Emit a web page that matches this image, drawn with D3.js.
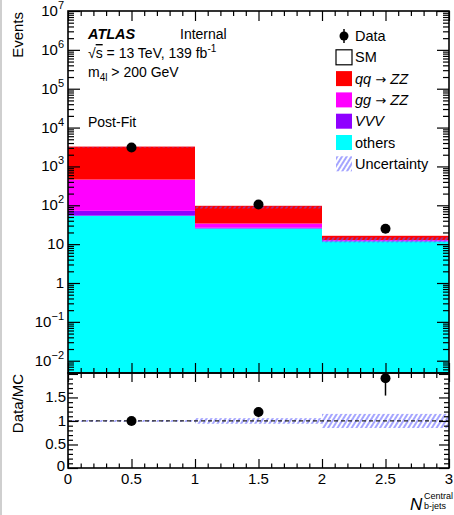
<!DOCTYPE html>
<html>
<head>
<meta charset="utf-8">
<script src="https://cdn.jsdelivr.net/npm/d3@7"></script>
<style>
  body { margin: 0; background: #fff; }
  svg { display: block; font-family: "Liberation Sans", Arial, sans-serif; }
  .frame { fill: none; stroke: #000; stroke-width: 1.6; }
  .tk path { display: none; }
  .tk line { stroke: #000; stroke-width: 1.2; }
</style>
</head>
<body>
<svg id="chart" width="454" height="515"></svg>
<script>
// bins of N_b-jets (central)
const binEdges = [0, 1, 2, 3]
const binCenters = [0.5, 1.5, 2.5]

// stacked post-fit yields, bottom to top
const others = [54, 25.3, 11.8]
const vvv = [18, 1.2, 0.4]
const ggZZ = [388, 7.5, 0.6]
const qqZZ = [2780, 63, 3.6]

const dataYield = [3060, 105, 25]
const smTotal = [3120, 88, 13]
const relUnc = [0.02, 0.06, 0.15]

const ratio = [1.0, 1.19, 1.91]
const ratioErrLo = [0.02, 0.11, 0.37]
const ratioErrHi = [0.02, 0.10, 0.40]

const yTickExp = [-2, -1, 0, 1, 2, 3, 4, 5, 6, 7]
const rTickLabels = ["0", "0.5", "1", "1.5"]
const xTickLabels = ["0", "0.5", "1", "1.5", "2", "2.5", "3"]

const series = [
    { name: "others", values: others, color: "#00ffff" },
    { name: "VVV", values: vvv, color: "#8f00ff" },
    { name: "ggZZ", values: ggZZ, color: "#ff00ff" },
    { name: "qqZZ", values: qqZZ, color: "#ff0000" },
]

let L = 68, R = 449, T = 11, M = 373, B = 468

let svg = d3.select("#chart")

// light grey strip on the left edge of the canvas
svg.append("rect").attr("x", 0).attr("y", 0).attr("width", 2).attr("height", 515).attr("fill", "#cfcfcf")

let defs = svg.append("defs")
let pat = defs.append("pattern")
    .attr("id", "hatch")
    .attr("width", 4).attr("height", 4)
    .attr("patternUnits", "userSpaceOnUse")
    .attr("patternTransform", "rotate(32)")
pat.append("line")
    .attr("x1", 1).attr("y1", -1).attr("x2", 1).attr("y2", 5)
    .attr("stroke", "#5a5aff").attr("stroke-width", 1.1)

let x = d3.scaleLinear().domain([0, 3]).range([L, R])
let y = d3.scaleLog().domain([Math.pow(10, -2.316), 1e7]).range([M, T])
let r = d3.scaleLinear().domain([0, 2.02]).range([B, M])

// ---- stacked histogram
let ymin = y.domain()[0]
let base = [0, 0, 0]
for (const s of series) {
    const lo = base.slice()
    const hi = base.map((b, i) => b + s.values[i])
    svg.append("g").selectAll("rect")
        .data(s.values)
        .join("rect")
        .attr("x", (d, i) => x(binEdges[i]))
        .attr("width", (d, i) => x(binEdges[i + 1]) - x(binEdges[i]))
        .attr("y", (d, i) => y(hi[i]))
        .attr("height", (d, i) => y(Math.max(lo[i], ymin)) - y(hi[i]))
        .attr("fill", s.color)
    base = hi
}

// uncertainty band on SM
svg.append("g").selectAll("rect")
    .data(smTotal)
    .join("rect")
    .attr("x", (d, i) => x(binEdges[i]))
    .attr("width", (d, i) => x(binEdges[i + 1]) - x(binEdges[i]))
    .attr("y", (d, i) => y(d * (1 + relUnc[i])))
    .attr("height", (d, i) => y(d * (1 - relUnc[i])) - y(d * (1 + relUnc[i])))
    .attr("fill", "url(#hatch)")

// data points
let pts = svg.append("g")
pts.selectAll("line")
    .data(dataYield)
    .join("line")
    .attr("x1", (d, i) => x(binCenters[i])).attr("x2", (d, i) => x(binCenters[i]))
    .attr("y1", d => y(d + Math.sqrt(d))).attr("y2", d => y(d - Math.sqrt(d)))
    .attr("stroke", "#000").attr("stroke-width", 1.5)
pts.selectAll("circle")
    .data(dataYield)
    .join("circle")
    .attr("cx", (d, i) => x(binCenters[i]))
    .attr("cy", d => y(d))
    .attr("r", 5)
    .attr("fill", "#000")

// ---- ratio panel
svg.append("g").selectAll("rect")
    .data(relUnc)
    .join("rect")
    .attr("x", (d, i) => x(binEdges[i]))
    .attr("width", (d, i) => x(binEdges[i + 1]) - x(binEdges[i]))
    .attr("y", d => r(1 + d))
    .attr("height", d => r(1 - d) - r(1 + d))
    .attr("fill", "url(#hatch)")

svg.append("line")
    .attr("x1", x(0)).attr("x2", x(3))
    .attr("y1", r(1)).attr("y2", r(1))
    .attr("stroke", "#222").attr("stroke-width", 1.2)
    .attr("stroke-dasharray", "4,3")

let rp = svg.append("g")
rp.selectAll("line")
    .data(ratio)
    .join("line")
    .attr("x1", (d, i) => x(binCenters[i])).attr("x2", (d, i) => x(binCenters[i]))
    .attr("y1", (d, i) => r(Math.min(d + ratioErrHi[i], 2.02)))
    .attr("y2", (d, i) => r(d - ratioErrLo[i]))
    .attr("stroke", "#000").attr("stroke-width", 1.5)
rp.selectAll("circle")
    .data(ratio)
    .join("circle")
    .attr("cx", (d, i) => x(binCenters[i]))
    .attr("cy", d => r(d))
    .attr("r", 5)
    .attr("fill", "#000")

// ---- ticks (inward, ROOT style)
let decades = yTickExp.map(e => Math.pow(10, e))
let yMinor = []
for (let e = -3; e <= 6; e++) {
    for (let k = 2; k <= 9; k++) {
        const v = k * Math.pow(10, e)
        if (v > ymin && v < 1e7) yMinor.push(v)
    }
}
let xMajor = d3.range(0, 3.01, 0.5)
let xMinor = d3.range(0, 3.01, 0.1).filter(v => Math.abs(v * 2 - Math.round(v * 2)) > 1e-6)
let rMajor = [0, 0.5, 1, 1.5, 2]
let rMinor = d3.range(0, 2.02, 0.1).filter(v => Math.abs(v * 2 - Math.round(v * 2)) > 1e-6)

function ticks(axis, vals, size, tx, ty) {
    svg.append("g")
        .attr("class", "tk")
        .attr("transform", `translate(${tx},${ty})`)
        .call(axis.tickValues(vals).tickSize(-size).tickFormat(""))
}

ticks(d3.axisLeft(y), decades, 12, L, 0)
ticks(d3.axisLeft(y), yMinor, 6, L, 0)
ticks(d3.axisRight(y), decades, 12, R, 0)
ticks(d3.axisRight(y), yMinor, 6, R, 0)
ticks(d3.axisTop(x), xMajor, 10, 0, T)
ticks(d3.axisTop(x), xMinor, 5, 0, T)
ticks(d3.axisBottom(x), xMajor, 10, 0, M)
ticks(d3.axisBottom(x), xMinor, 5, 0, M)

ticks(d3.axisLeft(r), rMajor, 10, L, 0)
ticks(d3.axisLeft(r), rMinor, 5, L, 0)
ticks(d3.axisRight(r), rMajor, 10, R, 0)
ticks(d3.axisRight(r), rMinor, 5, R, 0)
ticks(d3.axisTop(x), xMajor, 9, 0, M)
ticks(d3.axisTop(x), xMinor, 5, 0, M)
ticks(d3.axisBottom(x), xMajor, 9, 0, B)
ticks(d3.axisBottom(x), xMinor, 4.5, 0, B)

svg.append("rect").attr("class", "frame").attr("x", L).attr("y", T).attr("width", R - L).attr("height", M - T)
svg.append("rect").attr("class", "frame").attr("x", L).attr("y", M).attr("width", R - L).attr("height", B - M)

// ---- tick labels
let yl = svg.append("g").attr("font-size", 15).attr("text-anchor", "end")
for (const e of yTickExp) {
    const t = yl.append("text").attr("x", 64).attr("y", y(Math.pow(10, e)) + 5)
    if (e === 0) t.text("1")
    else if (e === 1) t.text("10")
    else {
        t.append("tspan").text("10")
        t.append("tspan").attr("font-size", 11).attr("dy", -7).text(String(e).replace("-", "\u2212"))
    }
}

svg.append("g").attr("font-size", 15).attr("text-anchor", "end")
    .selectAll("text")
    .data(rTickLabels)
    .join("text")
    .attr("x", d => d === "0" ? 65 : 66)
    .attr("y", (d, i) => r(rMajor[i]) + 5 - (d === "0" ? 2 : 0))
    .text(d => d)

svg.append("g").attr("font-size", 15).attr("text-anchor", "middle")
    .selectAll("text")
    .data(xTickLabels)
    .join("text")
    .attr("x", (d, i) => x(xMajor[i]))
    .attr("y", 484)
    .text(d => d)

// ---- axis titles
svg.append("text")
    .attr("transform", "translate(23,12) rotate(-90)")
    .attr("text-anchor", "end").attr("font-size", 15)
    .text("Events")
svg.append("text")
    .attr("transform", `translate(23,${M + 1}) rotate(-90)`)
    .attr("text-anchor", "end").attr("font-size", 15)
    .text("Data/MC")

let xt = svg.append("g")
xt.append("text").attr("x", 410).attr("y", 510).attr("font-size", 17).attr("font-style", "italic").text("N")
xt.append("text").attr("x", 424).attr("y", 499).attr("font-size", 9).text("Central")
xt.append("text").attr("x", 424).attr("y", 509).attr("font-size", 9).text("b-jets")

// ---- labels in the plot
let info = svg.append("g").attr("font-size", 14)
info.append("text").attr("x", 88).attr("y", 39).attr("font-weight", "bold").attr("font-style", "italic").attr("font-size", 14.5).text("ATLAS")
info.append("text").attr("x", 180).attr("y", 39).text("Internal")
let rs = info.append("text").attr("x", 88).attr("y", 58)
rs.append("tspan").text("\u221A")
rs.append("tspan").attr("text-decoration", "overline").text("s")
rs.append("tspan").text(" = 13 TeV, 139 fb")
rs.append("tspan").attr("font-size", 10).attr("dy", -6).text("-1")
let ml = info.append("text").attr("x", 88).attr("y", 77)
ml.append("tspan").text("m")
ml.append("tspan").attr("font-size", 10).attr("dy", 4).text("4l")
ml.append("tspan").attr("dy", -4).text(" > 200 GeV")
info.append("text").attr("x", 88).attr("y", 127).text("Post-Fit")

// ---- legend
let lg = svg.append("g").attr("font-size", 14.5)
let rowY = i => 36 + i * 21.3
lg.append("circle").attr("cx", 344).attr("cy", rowY(0)).attr("r", 4.5)
lg.append("line").attr("x1", 344).attr("x2", 344).attr("y1", rowY(0) - 7).attr("y2", rowY(0) + 7).attr("stroke", "#000").attr("stroke-width", 1.5)
lg.append("text").attr("x", 355).attr("y", rowY(0) + 5).text("Data")

let boxes = [
    { fill: "#fff", stroke: "#000" },
    { fill: series[3].color },
    { fill: series[2].color },
    { fill: series[1].color },
    { fill: series[0].color },
    { fill: "url(#hatch)" },
]
boxes.forEach((b, k) => {
    lg.append("rect")
        .attr("x", 336).attr("y", rowY(k + 1) - 7.5)
        .attr("width", 16).attr("height", 15)
        .attr("fill", b.fill)
        .attr("stroke", b.stroke || "none")
        .attr("stroke-width", 1.2)
})
lg.append("text").attr("x", 355).attr("y", rowY(1) + 5).text("SM")
let arrow = t => t.append("tspan").attr("font-family", "DejaVu Sans").attr("font-size", 13).text(" \u2192 ")
let t1 = lg.append("text").attr("x", 355).attr("y", rowY(2) + 5)
t1.append("tspan").attr("font-style", "italic").text("qq")
arrow(t1)
t1.append("tspan").attr("font-style", "italic").text("ZZ")
let t2 = lg.append("text").attr("x", 355).attr("y", rowY(3) + 5)
t2.append("tspan").attr("font-style", "italic").text("gg")
arrow(t2)
t2.append("tspan").attr("font-style", "italic").text("ZZ")
lg.append("text").attr("x", 355).attr("y", rowY(4) + 5).attr("font-style", "italic").text("VVV")
lg.append("text").attr("x", 355).attr("y", rowY(5) + 5).text("others")
lg.append("text").attr("x", 355).attr("y", rowY(6) + 5).text("Uncertainty")
</script>
</body>
</html>
